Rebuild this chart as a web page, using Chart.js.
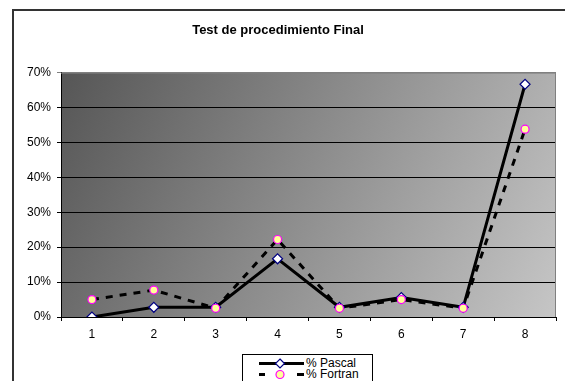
<!DOCTYPE html>
<html lang="es">
<head>
  <meta charset="UTF-8" />
  <title>Test de procedimiento Final</title>
  <script src="https://cdn.jsdelivr.net/npm/chart.js"></script>
  <style>
    html, body {
      margin: 0;
      padding: 0;
      background: #fff;
      overflow: hidden;
      font-family: 'Liberation Sans', Arial, sans-serif;
    }
    .frame {
      position: absolute;
      left: 12px;
      top: 9px;
      width: 600px;
      height: 400px;
      border: 2px solid #333;
    }
    .wrap {
      position: absolute;
      left: 0;
      top: 0;
      width: 565px;
      height: 381px;
    }
    .legend {
      position: absolute;
      left: 242px;
      top: 354px;
      width: 129px;
      height: 40px;
      border: 1px solid #000;
      background: #fff;
      font-size: 12px;
      color: #000;
    }
    .legend .row {
      position: absolute;
      left: 15px;
      height: 11px;
      line-height: 11px;
      white-space: nowrap;
    }
    .legend svg { vertical-align: top; }
    .legend span { position: absolute; left: 48px; top: 0; }
  </style>
</head>
<body>
  <div class="frame"></div>
  <div class="wrap">
    <canvas id="chart" width="565" height="381"></canvas>
  </div>
  <div class="legend">
    <div class="row" style="top:3px">
      <svg width="46" height="11">
        <line x1="1" y1="5.5" x2="46" y2="5.5" stroke="#000" stroke-width="3"/>
        <polygon points="22,1 26.5,5.5 22,10 17.5,5.5" fill="#fff" stroke="#000080" stroke-width="1.2"/>
      </svg><span>% Pascal</span>
    </div>
    <div class="row" style="top:14px">
      <svg width="46" height="11">
        <line x1="1" y1="5.5" x2="46" y2="5.5" stroke="#000" stroke-width="3" stroke-dasharray="6,32"/>
        <line x1="39" y1="5.5" x2="46" y2="5.5" stroke="#000" stroke-width="3"/>
        <circle cx="22" cy="5.5" r="4" fill="#ffff99" stroke="#ff00ff" stroke-width="1.2"/>
      </svg><span>% Fortran</span>
    </div>
  </div>

  <script>
    const categories = ['1', '2', '3', '4', '5', '6', '7', '8'];
    const pascal = [0, 2.78, 2.78, 16.67, 2.78, 5.56, 2.78, 66.67];
    const fortran = [5, 7.7, 2.5, 22.2, 2.5, 5, 2.5, 53.8];
    const yTicks = [0, 10, 20, 30, 40, 50, 60, 70];

    const plotBackground = {
      id: 'plotBackground',
      beforeDraw(chart) {
        const { ctx, chartArea: a } = chart;
        const g = ctx.createLinearGradient(a.left, a.top, a.right, a.bottom);
        g.addColorStop(0, '#565656');
        g.addColorStop(1, '#c6c6c6');
        ctx.save();
        ctx.fillStyle = g;
        ctx.fillRect(a.left, a.top, a.right - a.left, a.bottom - a.top);
        ctx.restore();
      },
      beforeDatasetsDraw(chart) {
        // grey top and right edge of the plot area
        const { ctx, chartArea: a } = chart;
        ctx.save();
        ctx.strokeStyle = '#808080';
        ctx.lineWidth = 1;
        ctx.beginPath();
        ctx.moveTo(a.left, a.top + 0.5);
        ctx.lineTo(a.right - 0.5, a.top + 0.5);
        ctx.lineTo(a.right - 0.5, a.bottom);
        ctx.stroke();
        ctx.restore();
      }
    };

    const font = { family: "'Liberation Sans', Arial, sans-serif", size: 12 };

    new Chart(document.getElementById('chart'), {
      type: 'line',
      data: {
        labels: categories,
        datasets: [
          {
            label: '% Pascal',
            data: pascal,
            borderColor: '#000',
            borderWidth: 3,
            tension: 0,
            pointStyle: 'rectRot',
            pointRadius: 5,
            pointBackgroundColor: '#fff',
            pointBorderColor: '#000080',
            pointBorderWidth: 1.2,
            order: 1
          },
          {
            label: '% Fortran',
            data: fortran,
            borderColor: '#000',
            borderWidth: 3,
            borderDash: [7, 7],
            tension: 0,
            pointStyle: 'circle',
            pointRadius: 4,
            pointBackgroundColor: '#ffff99',
            pointBorderColor: '#ff00ff',
            pointBorderWidth: 1.2,
            order: 0
          }
        ]
      },
      options: {
        responsive: false,
        animation: false,
        layout: { padding: { left: 0, right: 9, top: 0, bottom: 0 } },
        plugins: {
          legend: { display: false },
          tooltip: { enabled: false },
          title: {
            display: true,
            text: 'Test de procedimiento Final',
            color: '#000',
            font: { family: font.family, size: 13, weight: 'bold' },
            padding: { top: 23, bottom: 34 }
          }
        },
        scales: {
          x: {
            offset: true,
            afterFit(scale) { scale.height = 64; },
            grid: {
              offset: true,
              drawOnChartArea: false,
              color: '#000',
              tickLength: 4
            },
            border: { color: '#000', width: 1 },
            ticks: { color: '#000', font: font, padding: 6, maxRotation: 0 }
          },
          y: {
            min: 0,
            max: 70,
            afterFit(scale) { scale.width = 61; },
            afterBuildTicks(scale) { scale.ticks = yTicks.map(v => ({ value: v })); },
            grid: {
              color: ctx => (ctx.tick && ctx.tick.value === 70 ? '#808080' : '#000'),
              tickLength: 4
            },
            border: { color: '#000', width: 1 },
            ticks: {
              color: '#000',
              font: font,
              padding: 6,
              callback: v => v + '%'
            }
          }
        }
      },
      plugins: [plotBackground]
    });
  </script>
</body>
</html>
